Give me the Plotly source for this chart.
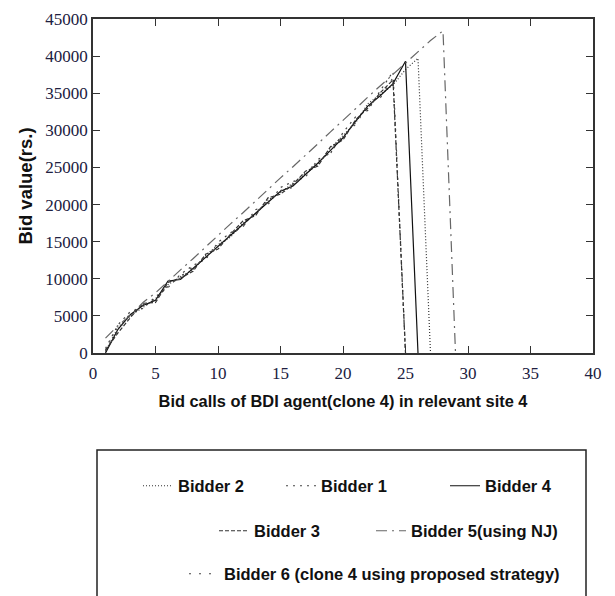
import plotly.graph_objects as go

# ---- data ----
bidder4_y = [0, 3200, 5200, 6400, 7100, 9700, 9900, 11400, 12900, 14300, 15800, 17300, 18900,
             20300, 21800, 22500, 24000, 25600, 27300, 29000, 31200, 33300, 34700, 36300, 39300, 0]
bidder2_y = [200, 3500, 5000, 6200, 7300, 9200, 10300, 11200, 13100, 14600, 15600, 17500, 18700,
             20600, 21600, 22900, 24200, 25400, 27600, 29300, 31000, 33600, 34900, 36100, 38200, 39700, 0]
bidder1_y = [600, 3800, 5600, 6000, 7600, 8800, 10600, 11800, 12600, 14900, 16200, 17000, 19300,
             20000, 22300, 23100, 23700, 26100, 26900, 29700, 31800, 32700, 35400, 37900, 0]
bidder3_y = [400, 2700, 4800, 6700, 6800, 9500, 10100, 11000, 13300, 14000, 16000, 17800, 18500,
             20900, 21400, 22700, 24500, 25200, 27800, 28700, 31400, 33000, 35100, 36800, 0]
bidder6_y = [300, 3000, 5400, 6500, 7200, 9000, 10300, 11600, 12700, 14400, 15900, 17100, 18900,
             20400, 21900, 22300, 24300, 25800, 27000, 29300, 30800, 33400, 34400, 37100, 0]
bidder5_y = [2000, 3700, 5100, 6800, 8100, 9700, 11200, 12700, 14300, 15900, 17400, 18900, 20500,
             22100, 23600, 25100, 26600, 28200, 29800, 31300, 32900, 34500, 36000, 37500, 39100,
             40600, 42100, 43400, 0]

names = ["Bidder 2", "Bidder 1", "Bidder 4", "Bidder 3", "Bidder 5(using NJ)",
         "Bidder 6 (clone 4 using proposed strategy)"]

x_ticks = [0, 5, 10, 15, 20, 25, 30, 35, 40]
y_ticks = [0, 5000, 10000, 15000, 20000, 25000, 30000, 35000, 40000, 45000]

series = [
    (names[0], bidder2_y, "1px,2px", "#333333", "legend"),
    (names[1], bidder1_y, "2px,5px", "#444444", "legend2"),
    (names[2], bidder4_y, "solid", "#111111", "legend3"),
    (names[3], bidder3_y, "4px,2px", "#333333", "legend4"),
    (names[4], bidder5_y, "11px,5px,2px,5px", "#666666", "legend5"),
    (names[5], bidder6_y, "2px,8px", "#444444", "legend6"),
]

fig = go.Figure()
for name, ys, dash, col, lg in series:
    fig.add_trace(go.Scatter(
        x=list(range(1, len(ys) + 1)), y=ys, mode="lines", name=name,
        line=dict(color=col, width=1.2, dash=dash), legend=lg))

W, H = 615, 596
L, R, T, B = 93, 22, 19, 243
pw, ph = W - L - R, H - T - B

def px(xp):
    return (xp - L) / pw

def py(yp):
    return (H - B - yp) / ph

legend_font = dict(family="Liberation Sans, Arial, sans-serif", size=16.5,
                   color="#111111", weight="bold")
# text start x, row center y
leg_pos = {
    "legend": (180, 486), "legend2": (323, 486), "legend3": (487, 486),
    "legend4": (256, 531), "legend5": (413, 531), "legend6": (226, 574),
}
layout_legends = {}
for k, (tx, ty) in leg_pos.items():
    layout_legends[k] = dict(x=px(tx - 42), y=py(ty), xanchor="left", yanchor="middle",
                             orientation="h", font=legend_font, bgcolor="rgba(0,0,0,0)",
                             borderwidth=0, itemwidth=30)

tick_font = dict(family="Liberation Serif, DejaVu Serif, serif", size=17, color="#202040")
xtitle_font = dict(family="Liberation Sans, Arial, sans-serif", size=16.4, color="#111111",
                   weight="bold")
ytitle_font = dict(family="Liberation Sans, Arial, sans-serif", size=18.5, color="#111111",
                   weight="bold")

fig.update_layout(
    width=W, height=H, margin=dict(l=L, r=R, t=T, b=B, autoexpand=False),
    paper_bgcolor="white", plot_bgcolor="white",
    showlegend=True,
    xaxis=dict(range=[0, 40], tickvals=x_ticks, ticktext=[str(v) for v in x_ticks],
               ticks="inside", ticklen=7, tickwidth=1.2, tickcolor="#333333",
               showline=True, linecolor="#333333", linewidth=1.5, mirror="ticks",
               showgrid=False, zeroline=False, tickfont=tick_font, ticklabelstandoff=4,
               title=dict(text="Bid calls of BDI agent(clone 4) in relevant site 4",
                          font=xtitle_font, standoff=13)),
    yaxis=dict(range=[0, 45000], tickvals=y_ticks, ticktext=[str(v) for v in y_ticks],
               ticks="inside", ticklen=7, tickwidth=1.2, tickcolor="#333333",
               showline=True, linecolor="#333333", linewidth=1.5, mirror="ticks",
               showgrid=False, zeroline=False, tickfont=tick_font,
               title=dict(text="Bid value(rs.)", font=ytitle_font, standoff=8)),
    shapes=[dict(type="rect", xref="paper", yref="paper",
                 x0=px(97), x1=px(586), y0=py(450), y1=py(610),
                 line=dict(color="#222222", width=1.5), fillcolor="rgba(0,0,0,0)")],
    **layout_legends,
)

fig.write_html("out.html")
